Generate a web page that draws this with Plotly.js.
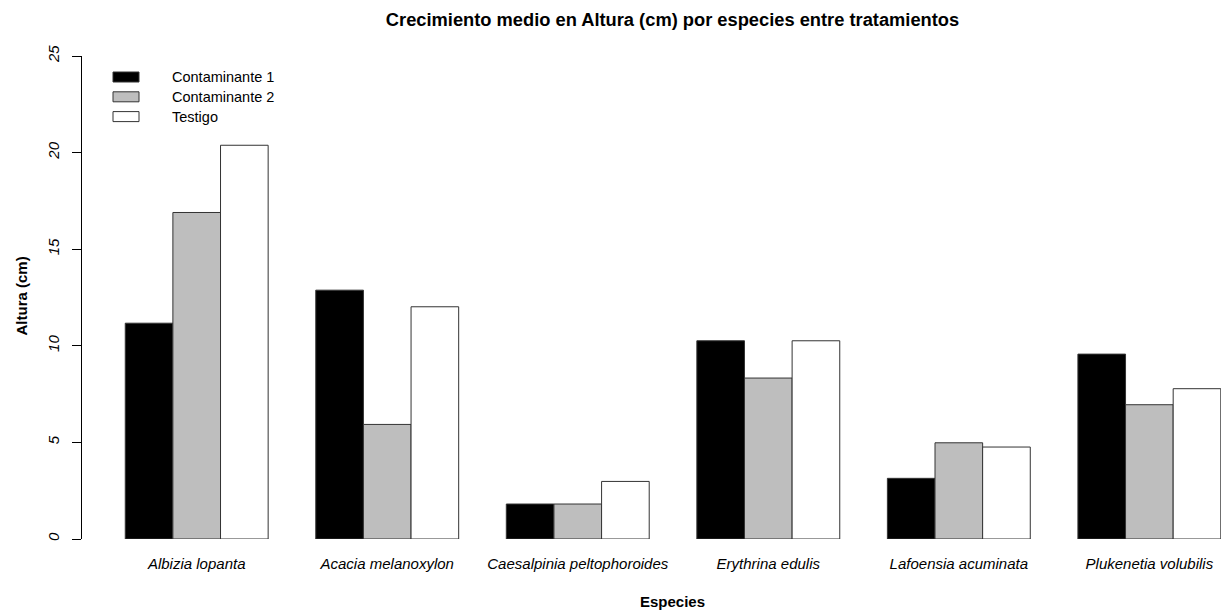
<!DOCTYPE html>
<html>
<head>
<meta charset="utf-8">
<script src="https://cdn.plot.ly/plotly-3.0.1.min.js"></script>
<style>html,body{margin:0;padding:0;background:#fff;}</style>
</head>
<body>
<div id="chart" style="width:1221px;height:611px;"></div>
<script>
const especies = ["Albizia lopanta", "Acacia melanoxylon", "Caesalpinia peltophoroides", "Erythrina edulis", "Lafoensia acuminata", "Plukenetia volubilis"];
const tratamientos = ["Contaminante 1", "Contaminante 2", "Testigo"];
const contaminante1 = [11.17, 12.88, 1.81, 10.26, 3.14, 9.57];
const contaminante2 = [16.90, 5.93, 1.81, 8.33, 4.98, 6.95];
const testigo = [20.38, 12.02, 2.98, 10.26, 4.76, 7.78];
const yTicks = [0, 5, 10, 15, 20, 25];
const colores = ["#000000", "#bebebe", "#ffffff"];

const series = [contaminante1, contaminante2, testigo];
const FONT = "Liberation Sans, Arial, sans-serif";

const W = 1221, H = 611;
const mL = 82, mR = 0, mT = 56, mB = 72;
const pw = W - mL - mR, ph = H - mT - mB;
const px2x = p => (p - mL) / pw;
const px2y = p => (H - mB - p) / ph;

const traces = series.map((vals, i) => ({
  type: "bar",
  x: especies,
  y: vals,
  name: tratamientos[i],
  marker: {color: colores[i], line: {color: "#333333", width: 1}},
  hoverinfo: "x+y+name",
  showlegend: false
}));

const shapes = [];
const annotations = [];
tratamientos.forEach((t, i) => {
  const cy = 77 + i * 19.8;
  shapes.push({
    type: "rect", xref: "paper", yref: "paper",
    x0: px2x(113), x1: px2x(139), y0: px2y(cy + 5), y1: px2y(cy - 5),
    fillcolor: colores[i], line: {color: "#333333", width: 1}
  });
  annotations.push({
    xref: "paper", yref: "paper", x: px2x(170), y: px2y(cy),
    xanchor: "left", yanchor: "middle", showarrow: false,
    text: t, font: {family: FONT, size: 14.5, color: "#000"}
  });
});
annotations.push({
  xref: "paper", yref: "paper", x: px2x(672.5), y: px2y(601),
  xanchor: "center", yanchor: "middle", showarrow: false,
  text: "<b>Especies</b>", font: {family: FONT, size: 15, color: "#000"}
});
annotations.push({
  xref: "paper", yref: "paper", x: px2x(20.5), y: px2y(296),
  xanchor: "center", yanchor: "middle", showarrow: false, textangle: -90,
  text: "<b>Altura (cm)</b>", font: {family: FONT, size: 15, color: "#000"}
});

const layout = {
  width: W, height: H,
  margin: {l: mL, r: mR, t: mT, b: mB, pad: 0},
  paper_bgcolor: "#fff", plot_bgcolor: "#fff",
  title: {
    text: "<b>Crecimiento medio en Altura (cm) por especies entre tratamientos</b>",
    xref: "container", yref: "container", x: 672.5 / W, y: 1 - 20 / H,
    xanchor: "center", yanchor: "middle",
    font: {family: FONT, size: 18.3, color: "#000"}
  },
  barmode: "group", bargap: 0.25, bargroupgap: 0,
  xaxis: {
    type: "category", range: [-0.602, 5.376],
    showline: false, showgrid: false, zeroline: false, ticks: "",
    tickfont: {family: FONT, size: 15, color: "#000", style: "italic"},
    ticklabelstandoff: 14
  },
  yaxis: {
    range: [0, 25], tickvals: yTicks, ticktext: yTicks.map(String),
    showline: true, linecolor: "#000", linewidth: 1,
    ticks: "outside", ticklen: 9, tickcolor: "#000", tickwidth: 1,
    showgrid: false, zeroline: false, tickangle: -90,
    tickfont: {family: FONT, size: 15, color: "#000", style: "italic"},
    ticklabelstandoff: 7
  },
  shapes: shapes,
  annotations: annotations,
  showlegend: false
};

Plotly.newPlot("chart", traces, layout, {displayModeBar: false, staticPlot: true});
</script>
</body>
</html>
